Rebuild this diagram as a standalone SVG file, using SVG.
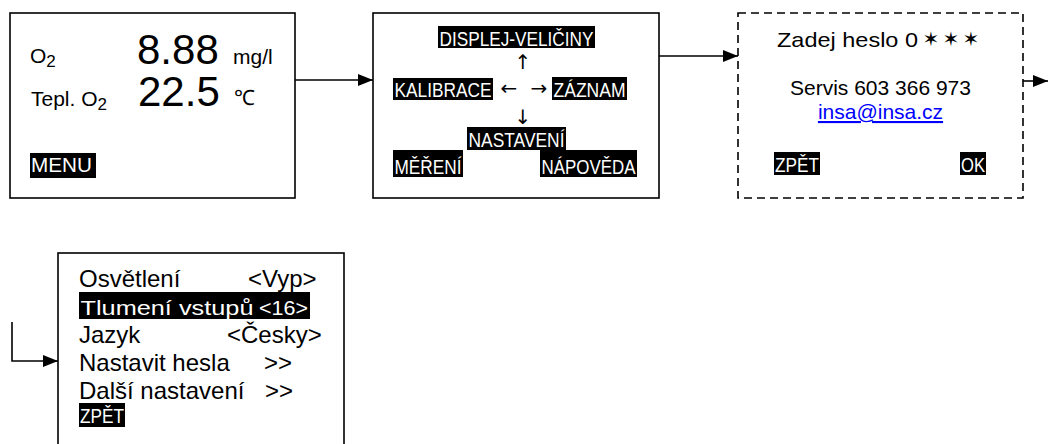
<svg xmlns="http://www.w3.org/2000/svg" width="1048" height="444" viewBox="0 0 1048 444">
<defs>
<marker id="ah" markerWidth="15" markerHeight="12" refX="15" refY="6" orient="auto" markerUnits="userSpaceOnUse">
<path d="M0,0 L15,6 L0,12 Z" fill="#000"/>
</marker>
<style>
.box{fill:#fff;stroke:#000;stroke-width:1.6}
.dash{fill:#fff;stroke:#000;stroke-width:1.6;stroke-dasharray:8 5}
.t{font-family:"Liberation Sans",Arial,sans-serif;font-size:21px;fill:#000}
.m{font-family:"Liberation Sans",Arial,sans-serif;font-size:24px;fill:#000}
.w{font-family:"Liberation Sans",Arial,sans-serif;font-size:21px;fill:#fff}
.bg{fill:#000}
.big{font-family:"Liberation Sans",Arial,sans-serif;font-size:42px;fill:#000}
.ar{font-family:"DejaVu Sans",sans-serif;font-size:20px;fill:#000}
.st{font-family:"DejaVu Sans",sans-serif;font-size:20px;fill:#000}
.conn{fill:none;stroke:#000;stroke-width:1.6}
</style>
</defs>
<g id="connectors">
<line class="conn" x1="295" y1="80" x2="373" y2="80" marker-end="url(#ah)"/>
<line class="conn" x1="659" y1="56" x2="738" y2="56" marker-end="url(#ah)"/>
<line class="conn" x1="1023" y1="81" x2="1048" y2="81" marker-end="url(#ah)"/>
<polyline class="conn" points="12,322 12,361 58,361" marker-end="url(#ah)"/>
</g>
<g id="node-measure">
<rect class="box" x="10" y="13" width="285" height="185"/>
<text class="t" x="30" y="63" font-size="26">O<tspan font-size="17" dy="4">2</tspan></text>
<text class="big" x="137" y="64">8.88</text>
<text class="t" x="233" y="64">mg/l</text>
<text class="t" x="31" y="106" font-size="26">Tepl. O<tspan font-size="17" dy="4">2</tspan></text>
<text class="big" x="138" y="106">22.5</text>
<text class="t" x="234" y="105" font-size="15">℃</text>
<rect class="bg" x="30" y="153" width="66" height="25"/>
<text class="t" x="31" y="172" style="fill:#fff" font-size="22" textLength="61" lengthAdjust="spacingAndGlyphs">MENU</text>
</g>
<g id="node-menu">
<rect class="box" x="373" y="13" width="286" height="185"/>
<rect class="bg" x="438" y="26" width="157" height="22"/>
<text class="w" x="439.5" y="46" textLength="154" lengthAdjust="spacingAndGlyphs">DISPLEJ-VELIČINY</text>
<text class="ar" x="523" y="69" text-anchor="middle">↑</text>
<rect class="bg" x="393" y="78" width="100" height="22"/>
<text class="w" x="394.5" y="97" textLength="97" lengthAdjust="spacingAndGlyphs">KALIBRACE</text>
<text class="ar" x="509" y="95" text-anchor="middle">←</text>
<text class="ar" x="539" y="95" text-anchor="middle">→</text>
<rect class="bg" x="552" y="77" width="75" height="23"/>
<text class="w" x="553.5" y="97" textLength="72" lengthAdjust="spacingAndGlyphs">ZÁZNAM</text>
<text class="ar" x="523" y="124" text-anchor="middle">↓</text>
<rect class="bg" x="467" y="127" width="99" height="23"/>
<text class="w" x="468.5" y="147" textLength="96" lengthAdjust="spacingAndGlyphs">NASTAVENÍ</text>
<rect class="bg" x="393" y="150" width="70" height="27"/>
<text class="w" x="394.5" y="174" textLength="67" lengthAdjust="spacingAndGlyphs">MĚŘENÍ</text>
<rect class="bg" x="540" y="150" width="97" height="27"/>
<text class="w" x="541.5" y="174" textLength="94" lengthAdjust="spacingAndGlyphs">NÁPOVĚDA</text>
</g>
<g id="node-password">
<rect class="dash" x="738" y="13" width="285" height="185"/>
<text class="t" x="777" y="47" font-size="23" textLength="141" lengthAdjust="spacingAndGlyphs">Zadej heslo 0</text>
<text class="st" x="931" y="46" text-anchor="middle">✶</text>
<text class="st" x="951" y="46" text-anchor="middle">✶</text>
<text class="st" x="971" y="46" text-anchor="middle">✶</text>
<text class="t" x="880.5" y="95" text-anchor="middle">Servis 603 366 973</text>
<text class="t" x="880.5" y="119" text-anchor="middle" style="fill:#0000ff" text-decoration="underline">insa@insa.cz</text>
<rect class="bg" x="774" y="152" width="46" height="23"/>
<text class="w" x="775" y="172" textLength="44" lengthAdjust="spacingAndGlyphs">ZPĚT</text>
<rect class="bg" x="960" y="152" width="26" height="23"/>
<text class="w" x="961" y="172" textLength="24" lengthAdjust="spacingAndGlyphs">OK</text>
</g>
<g id="node-settings">
<rect class="box" x="58" y="253" width="286" height="220"/>
<text class="m" x="79" y="287">Osvětlení</text>
<text class="m" x="248" y="287">&lt;Vyp&gt;</text>
<rect class="bg" x="79" y="292" width="231" height="27"/>
<text class="w" x="80.5" y="315" font-size="24" textLength="173" lengthAdjust="spacingAndGlyphs">Tlumení vstupů</text>
<text class="w" x="259" y="315" font-size="24" textLength="49" lengthAdjust="spacingAndGlyphs">&lt;16&gt;</text>
<text class="m" x="79" y="343">Jazyk</text>
<text class="m" x="227" y="343">&lt;Česky&gt;</text>
<text class="m" x="79" y="371">Nastavit hesla</text>
<text class="m" x="264" y="371">&gt;&gt;</text>
<text class="m" x="79" y="399">Další nastavení</text>
<text class="m" x="265" y="399">&gt;&gt;</text>
<rect class="bg" x="79" y="403" width="46" height="24"/>
<text class="w" x="80" y="423" textLength="44" lengthAdjust="spacingAndGlyphs">ZPĚT</text>
</g>
</svg>
